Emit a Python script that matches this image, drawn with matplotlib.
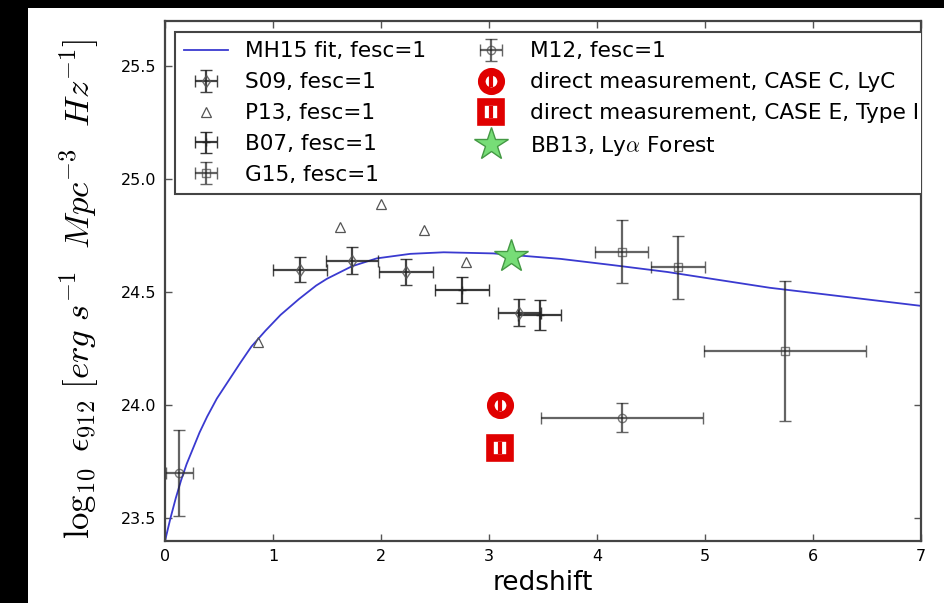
import matplotlib
matplotlib.use('Agg')
import matplotlib.pyplot as plt
from matplotlib.patches import Rectangle

# MH15 fit curve
fit_z = [0.0, 0.05, 0.10, 0.15, 0.20, 0.26, 0.32, 0.39, 0.48, 0.59, 0.70, 0.80,
         0.93, 1.07, 1.24, 1.40, 1.50, 1.73, 1.96, 2.27, 2.58, 3.04, 3.66, 4.15,
         4.65, 5.60, 6.30, 7.0]
fit_y = [23.40, 23.50, 23.59, 23.67, 23.74, 23.81, 23.88, 23.95, 24.03, 24.11,
         24.19, 24.26, 24.33, 24.40, 24.47, 24.53, 24.56, 24.615, 24.65, 24.67,
         24.677, 24.672, 24.648, 24.62, 24.59, 24.52, 24.48, 24.44]

s09_z = [1.25, 1.73, 2.23, 3.28]
s09_y = [24.60, 24.64, 24.59, 24.41]
s09_xerr = [0.25, 0.24, 0.25, 0.20]
s09_yerr = [0.055, 0.06, 0.056, 0.06]

p13_z = [0.86, 1.62, 2.0, 2.40, 2.79]
p13_y = [24.28, 24.79, 24.89, 24.775, 24.635]

b07_z = [2.75, 3.47]
b07_y = [24.51, 24.40]
b07_xerr = [0.25, 0.20]
b07_yerr = [0.058, 0.065]

g15_z = [4.23, 4.75, 5.74]
g15_y = [24.68, 24.61, 24.24]
g15_xerr = [0.245, 0.25, 0.75]
g15_yerr = [0.14, 0.14, 0.31]

m12_z = [0.13, 4.23]
m12_y = [23.70, 23.946]
m12_xerr = [0.125, 0.75]
m12_yerr = [0.19, 0.063]

case_c = (3.10, 24.00)
case_e = (3.10, 23.81)
bb13 = (3.20, 24.66)

plt.rcParams['mathtext.fontset'] = 'cm'

fig = plt.figure(figsize=(9.44, 6.03), dpi=100, facecolor='black')
fig.patches.append(Rectangle((28 / 944, 0), 1, 1 - 8 / 603, transform=fig.transFigure,
                             facecolor='white', edgecolor='none', zorder=-10))
ax = fig.add_axes([165 / 944, 62 / 603, 756 / 944, 520 / 603])

fit_line, = ax.plot(fit_z, fit_y, color='#3a3ad0', lw=1.3)

eb = dict(ls='none', ecolor='#222222', elinewidth=1.6, capsize=4, capthick=1.4,
          mfc='none', ms=6, mew=1.0)
h_s09 = ax.errorbar(s09_z, s09_y, xerr=s09_xerr, yerr=s09_yerr, fmt='d',
                    mec='#555555', alpha=0.85, **eb)
h_p13, = ax.plot(p13_z, p13_y, '^', mfc='none', mec='#555555', ms=7, mew=0.9, ls='none')
h_b07 = ax.errorbar(b07_z, b07_y, xerr=b07_xerr, yerr=b07_yerr, fmt='+',
                    mec='#222222', alpha=0.9, **eb)
h_g15 = ax.errorbar(g15_z, g15_y, xerr=g15_xerr, yerr=g15_yerr, fmt='s',
                    mec='#444444', alpha=0.7, **eb)
h_m12 = ax.errorbar(m12_z, m12_y, xerr=m12_xerr, yerr=m12_yerr, fmt='o',
                    mec='#444444', alpha=0.7, **eb)

c_ring, = ax.plot([case_c[0]], [case_c[1]], 'o', ms=14, mfc='white', mec='#e00000', mew=5.5)
c_bar, = ax.plot([case_c[0]], [case_c[1]], '|', ms=8, mec='#e00000', mew=3)
e_box, = ax.plot([case_e[0]], [case_e[1]], 's', ms=14, mfc='white', mec='#e00000', mew=5.5)
e_bar, = ax.plot([case_e[0]], [case_e[1]], '|', ms=8, mec='#e00000', mew=3)
h_bb, = ax.plot([bb13[0]], [bb13[1]], '*', ms=25, mfc='#77dd77', mec='#449944', mew=1.0)

ax.set_xlim(0, 7)
ax.set_ylim(23.4, 25.7)
ax.set_xticks(range(0, 8))
ax.set_yticks([23.5, 24.0, 24.5, 25.0, 25.5])
ax.tick_params(direction='in', top=True, right=True, length=5, width=1,
               color='#555555', labelsize=11.5, pad=6)
for s in ax.spines.values():
    s.set_color('#444444')
    s.set_linewidth(1.6)

ax.set_xlabel('redshift', fontsize=19, labelpad=4)
ax.set_ylabel(r'$\log_{10}\ \epsilon_{912}\ [erg\ s^{-1}\ \ Mpc^{-3}\ \ Hz^{-1}]$',
              fontsize=25, labelpad=13)
ax.yaxis.set_label_coords(-0.085, 0.485)

handles = [fit_line, h_s09, h_p13, h_b07, h_g15, h_m12,
           (c_ring, c_bar), (e_box, e_bar), h_bb]
labels = ['MH15 fit, fesc=1', 'S09, fesc=1', 'P13, fesc=1', 'B07, fesc=1',
          'G15, fesc=1', 'M12, fesc=1', 'direct measurement, CASE C, LyC',
          'direct measurement, CASE E, Type I', r'BB13, Ly$\alpha$ Forest']
leg = ax.legend(handles, labels, ncol=2, loc='upper left', bbox_to_anchor=(0.013, 0.979),
                fontsize=15.6, labelspacing=0.5, borderpad=0.44, borderaxespad=0,
                fancybox=False, framealpha=1, edgecolor='#444444', numpoints=1)
leg.get_frame().set_linewidth(1.5)
# the legend runs past the right spine and is cut there
leg.get_frame().set_clip_box(ax.bbox)
leg.get_frame().set_clip_on(True)
for t in leg.get_texts():
    t.set_clip_box(ax.bbox)
    t.set_clip_on(True)

fig.savefig('out.png', dpi=100)
